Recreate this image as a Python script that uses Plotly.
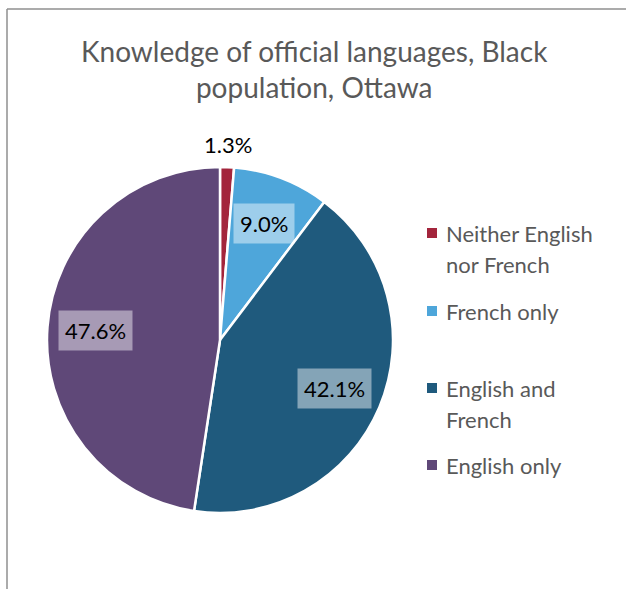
import math
import plotly.graph_objects as go

# Data
categories = ["Neither English nor French", "French only", "English and French", "English only"]
legend_lines = [["Neither English", "nor French"], ["French only"], ["English and", "French"], ["English only"]]
shares = [1.3, 9.0, 42.1, 47.6]
colors = ["#A3253C", "#4EA6DA", "#1F5A7D", "#5F4878"]

# Canvas / layout geometry (pixels)
W, H = 626, 589
CX, CY, R = 220, 340, 173
FONT = "Lato, 'Gill Sans MT', 'Gill Sans', sans-serif"
GREY = "#595959"


def px(x):
    return x / W


def py(y):
    return 1 - y / H


fig = go.Figure(
    go.Pie(
        labels=categories,
        values=shares,
        sort=False,
        direction="clockwise",
        rotation=0,
        marker=dict(colors=colors, line=dict(color="white", width=2.5)),
        textinfo="none",
        hoverinfo="label+percent",
        showlegend=False,
        domain=dict(x=[px(CX - R), px(CX + R)], y=[py(CY + R), py(CY - R)]),
    )
)

annotations = []
shapes = []

# Data labels placed at each slice's mid-angle
total = sum(shares)
cum = 0.0
for val, col in zip(shares, colors):
    mid = (cum + val / 2) / total * 2 * math.pi
    cum += val
    small = val / total < 0.03
    k = 1.13 if small else 0.72
    lx = CX + k * R * math.sin(mid)
    ly = CY - k * R * math.cos(mid)
    annotations.append(
        dict(
            x=px(lx), y=py(ly), xref="paper", yref="paper",
            text=f"{val:.1f}%", showarrow=False,
            font=dict(family=FONT, size=22, color="#000000"),
            bgcolor=None if small else "rgba(255,255,255,0.45)",
            borderpad=6 if not small else 0,
            xanchor="center", yanchor="middle",
        )
    )

# Title
annotations.append(
    dict(
        x=px(314), y=py(69), xref="paper", yref="paper",
        text="Knowledge of official languages, Black<br>population, Ottawa",
        showarrow=False, align="center",
        font=dict(family=FONT, size=28, color=GREY),
        xanchor="center", yanchor="middle",
    )
)

# Legend (square swatch + wrapped text lines)
item_tops = [233, 311, 388, 465]
LINE_GAP = 31
for lines, col, y0 in zip(legend_lines, colors, item_tops):
    shapes.append(
        dict(type="rect", xref="paper", yref="paper",
             x0=px(427), x1=px(437), y0=py(y0 + 5), y1=py(y0 - 5),
             fillcolor=col, line=dict(width=0))
    )
    for i, line in enumerate(lines):
        annotations.append(
            dict(
                x=px(444), y=py(y0 + i * LINE_GAP), xref="paper", yref="paper",
                text=line, showarrow=False,
                font=dict(family=FONT, size=22, color=GREY),
                xanchor="left", yanchor="middle",
            )
        )

# Chart-area frame (top and left edges visible)
shapes.append(dict(type="line", xref="paper", yref="paper",
                   x0=px(7), x1=1.0, y0=py(9), y1=py(9),
                   line=dict(color="#8F8F8F", width=1.5)))
shapes.append(dict(type="line", xref="paper", yref="paper",
                   x0=px(7), x1=px(7), y0=py(9), y1=0.0,
                   line=dict(color="#8F8F8F", width=1.5)))

fig.update_layout(
    width=W, height=H,
    margin=dict(l=0, r=0, t=0, b=0),
    paper_bgcolor="white", plot_bgcolor="white",
    annotations=annotations, shapes=shapes,
    showlegend=False,
)

fig.write_html("out.html")
